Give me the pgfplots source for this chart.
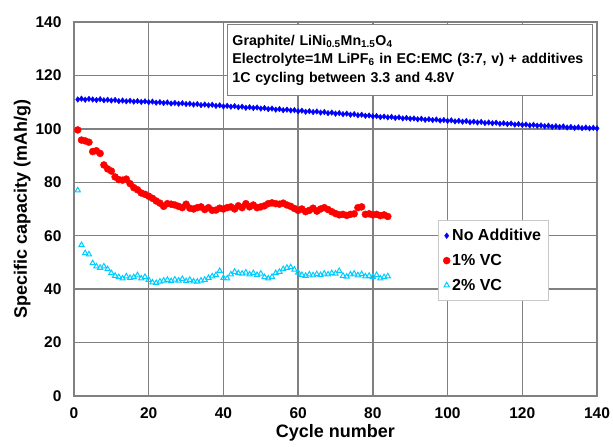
\documentclass[border=0pt]{standalone}
\usepackage{pgfplots}
\pgfplotsset{compat=1.18}
\usepackage{fontspec}
\setmainfont{Liberation Sans}
\definecolor{gridgray}{RGB}{128,128,128}
\definecolor{cyanpt}{RGB}{0,204,255}
\definecolor{legbord}{RGB}{200,200,200}
\begin{document}
\begin{tikzpicture}
\useasboundingbox (-74pt,-51pt) rectangle (539pt,396pt);
\begin{axis}[at={(0,0)}, anchor=south west, scale only axis, width=523pt, height=374pt,
  xmin=0, xmax=140, ymin=0, ymax=140,
  xtick={0,20,...,140}, ytick={0,20,...,140},
  grid=major, major grid style={gridgray, line width=1.4pt},
  axis line style={gridgray, line width=1.4pt},
  tick style={draw=none},
  /pgf/number format/assume math mode=true,
  ticklabel style={font=\fontsize{15.5}{15.5}\selectfont\bfseries},
  yticklabel style={xshift=-9pt},
  xticklabel style={yshift=-8pt},
  xlabel={Cycle number}, ylabel={Specific capacity (mAh/g)},
  label style={font=\fontsize{18}{18}\selectfont\bfseries},
  xlabel style={at={(axis description cs:0.5,-0.098)}, anchor=center},
  ylabel style={at={(axis description cs:-0.099,0.5)}, anchor=center},
  legend style={at={(0.696,0.4706)}, anchor=north west, draw=legbord, fill=white,
    font=\fontsize{16}{16}\selectfont\bfseries, row sep=8pt, inner xsep=5pt, inner ysep=7pt},
  legend cell align=left,
]
\addplot[only marks, mark=diamond*, mark size=2.8pt, color=blue] coordinates {
(1,111.0)(2,111.3)(3,110.9)(4,111.2)(5,111.0)(6,110.8)(7,111.1)(8,110.7)(9,110.9)(10,110.6)
(11,110.8)(12,110.4)(13,110.6)(14,110.3)(15,110.5)(16,110.2)(17,110.4)(18,110.1)(19,110.3)(20,110.0)
(21,110.2)(22,109.8)(23,110.0)(24,109.7)(25,109.9)(26,109.5)(27,109.7)(28,109.4)(29,109.6)(30,109.3)
(31,109.4)(32,109.1)(33,109.3)(34,108.9)(35,109.1)(36,108.8)(37,109.0)(38,108.6)(39,108.8)(40,108.4)
(41,108.6)(42,108.3)(43,108.5)(44,108.1)(45,108.3)(46,107.9)(47,108.1)(48,107.8)(49,108.0)(50,107.6)
(51,107.8)(52,107.4)(53,107.6)(54,107.2)(55,107.4)(56,107.0)(57,107.2)(58,106.9)(59,107.0)(60,106.6)
(61,106.8)(62,106.4)(63,106.6)(64,106.3)(65,106.5)(66,106.1)(67,106.3)(68,105.9)(69,106.1)(70,105.7)
(71,105.9)(72,105.5)(73,105.7)(74,105.3)(75,105.5)(76,105.1)(77,105.3)(78,104.9)(79,105.0)(80,104.7)
(81,104.8)(82,104.4)(83,104.6)(84,104.3)(85,104.5)(86,104.1)(87,104.3)(88,103.9)(89,104.1)(90,103.8)
(91,103.9)(92,103.6)(93,103.8)(94,103.4)(95,103.6)(96,103.3)(97,103.5)(98,103.1)(99,103.3)(100,103.0)
(101,103.2)(102,102.8)(103,103.0)(104,102.7)(105,102.9)(106,102.5)(107,102.7)(108,102.4)(109,102.6)(110,102.2)
(111,102.4)(112,102.1)(113,102.3)(114,101.9)(115,102.1)(116,101.8)(117,102.0)(118,101.6)(119,101.8)(120,101.5)
(121,101.6)(122,101.3)(123,101.5)(124,101.2)(125,101.3)(126,101.0)(127,101.2)(128,100.8)(129,101.0)(130,100.7)
(131,100.9)(132,100.5)(133,100.7)(134,100.4)(135,100.6)(136,100.3)(137,100.5)(138,100.2)(139,100.4)(140,100.2)
};
\addlegendentry{No Additive}
\addplot[only marks, mark=*, mark size=3.5pt, color=red] coordinates {
(1,99.6)(2,95.8)(3,95.5)(4,95.0)(5,91.5)(6,91.8)(7,90.8)(8,86.5)(9,85.0)(10,84.2)
(11,82.0)(12,81.0)(13,80.8)(14,81.2)(15,79.5)(16,78.0)(17,77.2)(18,76.0)(19,75.5)(20,74.8)
(21,74.0)(22,73.0)(23,72.2)(24,71.0)(25,72.0)(26,71.8)(27,71.5)(28,71.0)(29,70.5)(30,71.8)
(31,70.3)(32,70.0)(33,70.5)(34,70.8)(35,69.8)(36,70.5)(37,69.5)(38,69.6)(39,70.3)(40,70.0)
(41,70.5)(42,70.8)(43,70.0)(44,71.2)(45,70.5)(46,72.0)(47,70.8)(48,71.5)(49,70.5)(50,70.8)
(51,71.2)(52,72.0)(53,72.3)(54,72.0)(55,71.8)(56,72.2)(57,71.5)(58,71.0)(59,70.2)(60,69.5)
(61,70.0)(62,69.0)(63,69.5)(64,70.3)(65,69.2)(66,70.0)(67,70.5)(68,69.8)(69,69.0)(70,68.3)
(71,67.8)(72,68.0)(73,67.6)(74,68.0)(75,68.2)(76,70.5)(77,70.8)(78,68.0)(79,68.2)(80,67.8)
(81,68.0)(82,67.5)(83,67.8)(84,67.2)
};
\addlegendentry{1\% VC}
\addplot[only marks, mark=triangle, mark size=3pt, color=cyanpt, mark options={line width=1pt}] coordinates {
(1,77.0)(2,56.5)(3,53.5)(4,53.0)(5,49.7)(6,48.5)(7,48.0)(8,48.5)(9,47.5)(10,46.0)
(11,45.0)(12,44.5)(13,44.0)(14,44.8)(15,44.2)(16,44.5)(17,45.2)(18,44.0)(19,44.6)(20,43.5)
(21,42.5)(22,42.3)(23,42.8)(24,43.2)(25,43.5)(26,43.0)(27,43.6)(28,43.2)(29,43.8)(30,43.0)
(31,43.5)(32,42.9)(33,42.8)(34,43.2)(35,43.5)(36,44.2)(37,44.8)(38,45.3)(39,46.8)(40,44.2)
(41,44.0)(42,45.5)(43,46.5)(44,46.0)(45,45.8)(46,46.2)(47,45.5)(48,46.0)(49,45.3)(50,45.8)
(51,44.5)(52,44.0)(53,44.6)(54,46.0)(55,46.5)(56,47.5)(57,48.0)(58,48.2)(59,47.3)(60,46.2)
(61,45.3)(62,45.0)(63,45.5)(64,45.2)(65,45.6)(66,45.3)(67,45.8)(68,45.5)(69,46.0)(70,45.8)
(71,46.8)(72,45.0)(73,44.7)(74,45.5)(75,45.8)(76,45.2)(77,45.6)(78,44.8)(79,45.0)(80,44.6)
(81,45.3)(82,44.0)(83,44.5)(84,44.8)
};
\addlegendentry{2\% VC}
\node[draw=gridgray, line width=1pt, fill=white, anchor=north west, inner xsep=5pt, inner ysep=3pt,
  minimum width=365pt, minimum height=71pt, align=left, text width=355pt,
  font=\fontsize{14.2}{18.5}\selectfont\bfseries]
  at (axis description cs:0.2925,0.995)
  {Graphite/ LiNi\textsubscript{0.5}Mn\textsubscript{1.5}O\textsubscript{4}\\
   Electrolyte=1M LiPF\textsubscript{6} in EC:EMC (3:7, v) + additives\\
   1C cycling between 3.3 and 4.8V};
\end{axis}
\end{tikzpicture}
\end{document}
